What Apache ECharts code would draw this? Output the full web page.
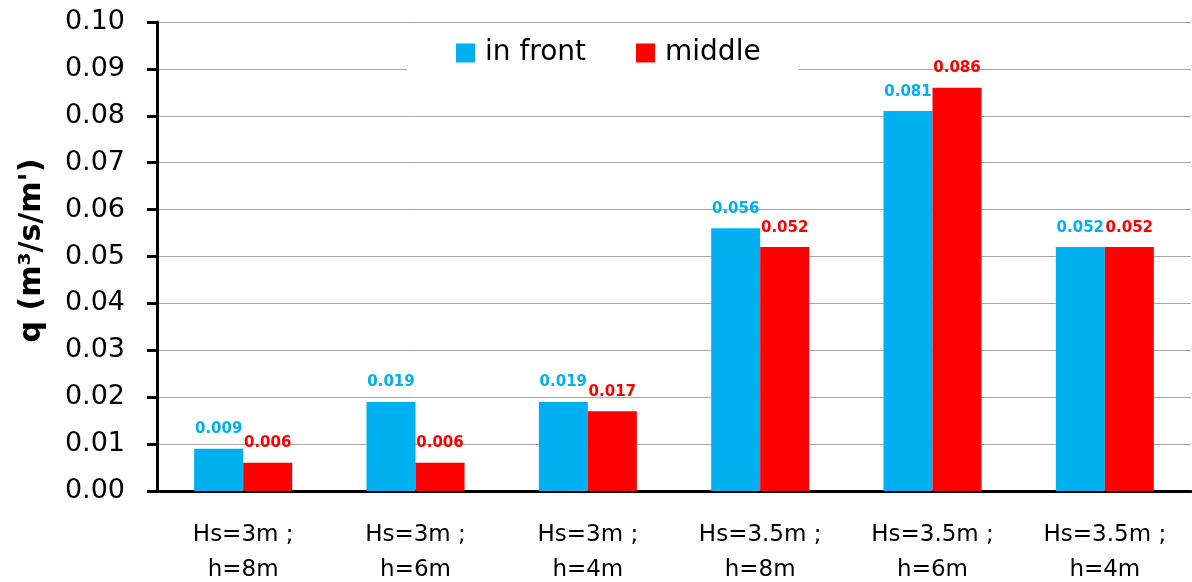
<!DOCTYPE html>
<html>
<head>
<meta charset="utf-8">
<script src="https://cdn.jsdelivr.net/npm/echarts@6/dist/echarts.min.js"></script>
<style>
  html, body { margin: 0; padding: 0; background: #fff; }
  #chart { width: 1192px; height: 582px; }
</style>
</head>
<body>
<div id="chart"></div>
<script>
const categories = [
  'Hs=3m ;\nh=8m',
  'Hs=3m ;\nh=6m',
  'Hs=3m ;\nh=4m',
  'Hs=3.5m ;\nh=8m',
  'Hs=3.5m ;\nh=6m',
  'Hs=3.5m ;\nh=4m',
]
const inFront = [0.009, 0.019, 0.019, 0.056, 0.081, 0.052]
const middle = [0.006, 0.006, 0.017, 0.052, 0.086, 0.052]

const font = 'DejaVu Sans'

const chart = echarts.init(document.getElementById('chart'))
const option = {
  backgroundColor: '#fff',
  animation: false,
  textStyle: { fontFamily: font },
  grid: {
    left: 157,
    right: 1,
    top: 22,
    bottom: 91,
    containLabel: false,
    outerBoundsMode: 'none',
  },
  legend: {
    left: 407,
    top: 27,
    padding: [12, 38, 12, 49],
    backgroundColor: '#fff',
    itemWidth: 19,
    itemHeight: 19,
    itemGap: 50,
    icon: 'rect',
    textStyle: {
      fontFamily: font,
      fontSize: 28,
      color: '#000',
      padding: [0, 0, 0, 5],
    },
    data: ['in front', 'middle'],
  },
  xAxis: {
    type: 'category',
    data: categories,
    axisLine: { lineStyle: { color: '#000', width: 3 } },
    axisTick: { length: 10, lineStyle: { color: '#000', width: 3 } },
    axisLabel: {
      color: '#000',
      fontFamily: font,
      fontSize: 23,
      lineHeight: 35,
      margin: 27,
      interval: 0,
    },
  },
  yAxis: {
    type: 'value',
    min: 0,
    max: 0.1,
    interval: 0.01,
    name: "q (m³/s/m')",
    nameLocation: 'middle',
    nameGap: 110,
    nameTextStyle: {
      fontFamily: font,
      fontSize: 30,
      fontWeight: 'bold',
      color: '#000',
      padding: [0, 0, 0, 12],
    },
    axisLine: { show: true, lineStyle: { color: '#000', width: 3 } },
    axisTick: { show: true, length: 10, lineStyle: { color: '#000', width: 3 } },
    axisLabel: {
      color: '#000',
      fontFamily: font,
      fontSize: 27,
      margin: 32,
      formatter: (v) => v.toFixed(2),
    },
    splitLine: { lineStyle: { color: '#a6a6a6', width: 1 } },
  },
  series: [
    {
      name: 'in front',
      type: 'bar',
      data: inFront,
      barWidth: 49,
      barGap: '0%',
      itemStyle: { color: '#00b0f0' },
      label: {
        show: true,
        position: 'top',
        distance: 12,
        color: '#00b0f0',
        fontFamily: font,
        fontSize: 15,
        fontWeight: 'bold',
        formatter: (p) => p.value.toFixed(3),
      },
    },
    {
      name: 'middle',
      type: 'bar',
      data: middle,
      barWidth: 49,
      barGap: '0%',
      itemStyle: { color: '#ff0000' },
      label: {
        show: true,
        position: 'top',
        distance: 12,
        color: '#ff0000',
        fontFamily: font,
        fontSize: 15,
        fontWeight: 'bold',
        formatter: (p) => p.value.toFixed(3),
      },
    },
  ],
}
chart.setOption(option)
</script>
</body>
</html>
